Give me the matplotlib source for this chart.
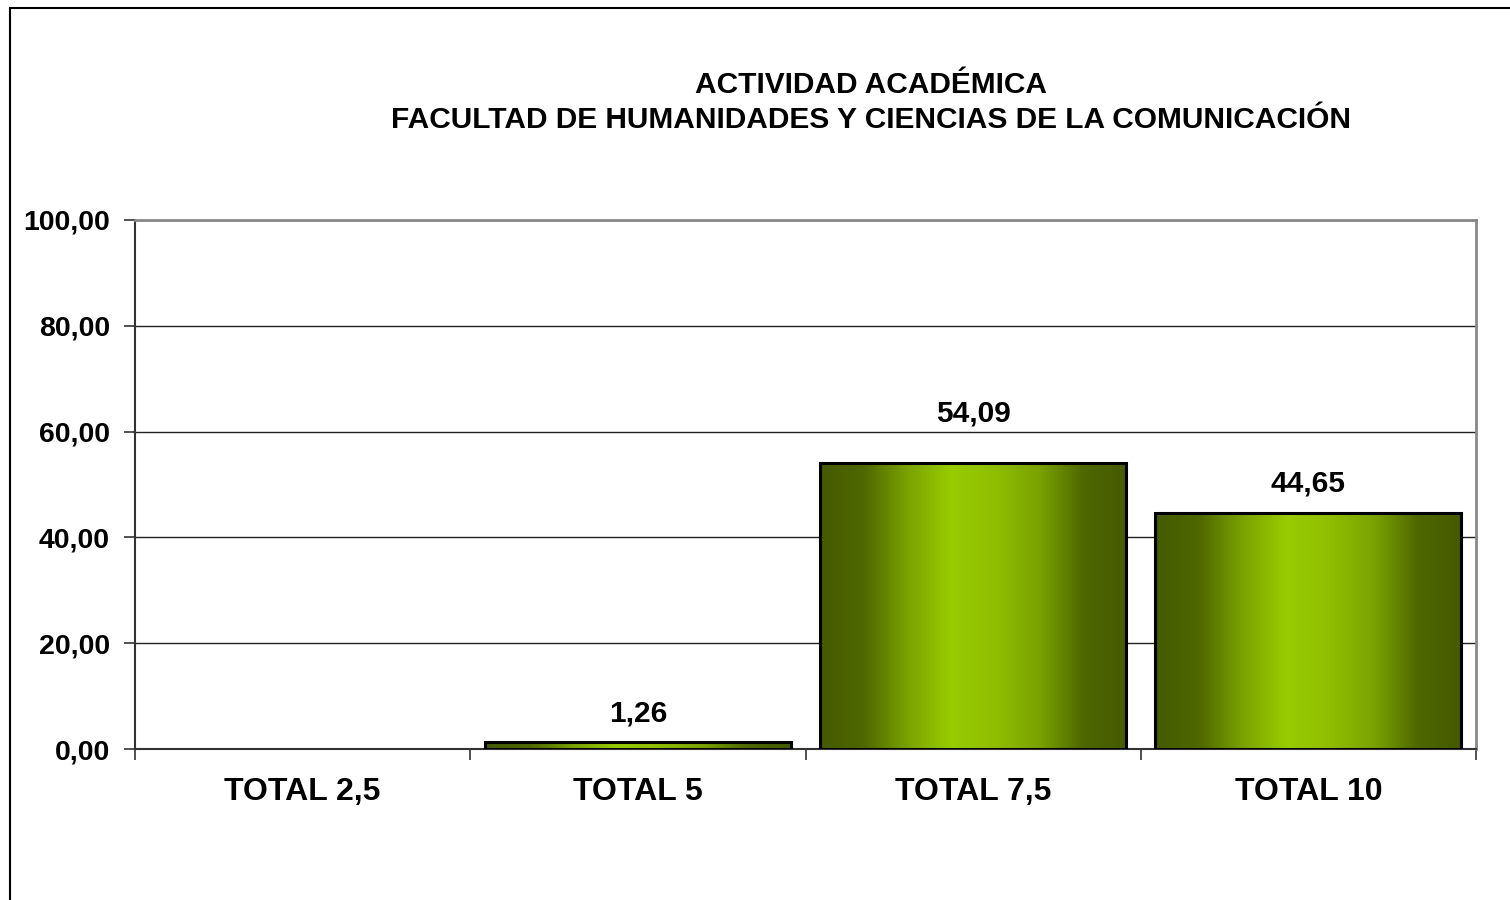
import numpy as np
import matplotlib
matplotlib.use('Agg')
import matplotlib.pyplot as plt
from matplotlib.colors import LinearSegmentedColormap
from matplotlib.patches import Rectangle

categories = ['TOTAL 2,5', 'TOTAL 5', 'TOTAL 7,5', 'TOTAL 10']
values = [0.0, 1.26, 54.09, 44.65]
yticks = [0, 20, 40, 60, 80, 100]

# distance (in data units) of each label centre above its bar
label_offsets = [5.4, 5.4, 9.4, 5.5]

plt.rcParams['font.family'] = ['Liberation Sans', 'DejaVu Sans']
plt.rcParams['font.weight'] = 'bold'

fig = plt.figure(figsize=(15.1, 9), dpi=100)
fig.patch.set_facecolor('white')

# outer chart border
fig.add_artist(Rectangle((10/1510, -0.01), 1.2, (900-8)/900 + 0.01, transform=fig.transFigure,
                         fill=False, edgecolor='black', linewidth=1.5))

ax = fig.add_axes([135/1510, 151/900, (1476-135)/1510, (749-220)/900])

cmap = LinearSegmentedColormap.from_list('grn', ['#465a00', '#4f6800', '#7aa300', '#99cc00', '#8fbe00', '#7aa300', '#4f6800', '#465a00'])
grad = np.linspace(0, 1, 256).reshape(1, -1)

bw = 0.913
for i, v in enumerate(values):
    x0 = i + (1 - bw) / 2
    if v > 0:
        im = ax.imshow(grad, cmap=cmap, extent=[x0, x0 + bw, 0, v], aspect='auto', zorder=3)
        rect = Rectangle((x0, 0), bw, v, fill=False, edgecolor='black', linewidth=2.2, zorder=4)
        ax.add_patch(rect)
        clip = Rectangle((x0, 0), bw, v, transform=ax.transData)
        im.set_clip_path(clip)
        ax.text(i + 0.5, v + label_offsets[i], f'{v:.2f}'.replace('.', ','), ha='center', va='center',
                fontsize=21.5, fontweight='bold', zorder=5)

ax.set_xlim(0, len(categories))
ax.set_ylim(0, 100)

ax.set_yticks(yticks)
ax.set_yticklabels([f'{t:.2f}'.replace('.', ',') for t in yticks], fontsize=20.5, fontweight='bold')
ax.yaxis.grid(True, color='#222222', linewidth=1.0, zorder=1)
ax.set_axisbelow(True)

ax.set_xticks(np.arange(len(categories) + 1))
ax.set_xticklabels([])
ax.set_xticks(np.arange(len(categories)) + 0.5, minor=True)
ax.set_xticklabels(categories, minor=True, fontsize=23, fontweight='bold')
ax.tick_params(axis='x', which='minor', length=0, pad=20)
ax.tick_params(axis='x', which='major', length=8, width=1.2, color='#333333', direction='out')
ax.tick_params(axis='y', length=8, width=1.2, color='#333333', direction='out', pad=10)

for s in ['top', 'right']:
    ax.spines[s].set_color('#888888')
    ax.spines[s].set_linewidth(2)
ax.spines['left'].set_color('#333333')
ax.spines['left'].set_linewidth(1.5)
ax.spines['bottom'].set_color('#333333')
ax.spines['bottom'].set_linewidth(1.5)

fig.text(871/1510, 1 - 85/900, 'ACTIVIDAD ACADÉMICA', ha='center', va='center',
         fontsize=21.5, fontweight='bold')
fig.text(871/1510, 1 - 120/900, 'FACULTAD DE HUMANIDADES Y CIENCIAS DE LA COMUNICACIÓN',
         ha='center', va='center', fontsize=21.5, fontweight='bold')

fig.savefig('out.png', dpi=100)
